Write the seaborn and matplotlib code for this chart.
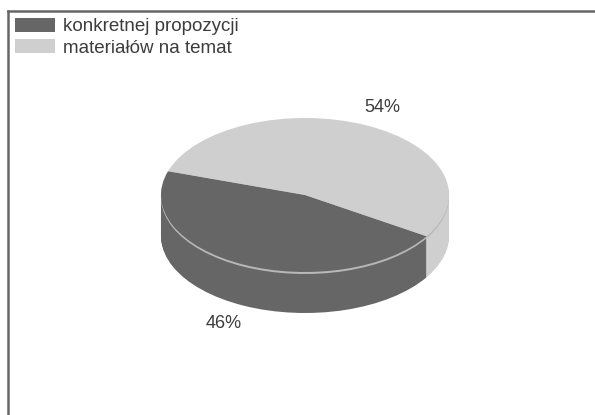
import matplotlib
matplotlib.use("Agg")
import matplotlib.pyplot as plt
import numpy as np
import seaborn as sns

categories = ["konkretnej propozycji", "materiałów na temat"]
shares = [46, 54]
share_labels = ["46%", "54%"]

W, H = 595, 415
colors = ["#666666", "#cfcfcf"]
rim_color = "#b8b8b8"
text_color = "#3c3c3c"

# pie geometry in pixels of the output image
cx, cy = 305, 195
rx, ry = 144, 77
depth = 41
frame_x, frame_y = 8, 11

sns.set_theme(style="white")
plt.rcParams["font.family"] = ["Liberation Sans", "DejaVu Sans"]

fig = plt.figure(figsize=(W / 100, H / 100), dpi=100)
ax = fig.add_axes([frame_x / W, 0, 1 - frame_x / W, 1 - frame_y / H])

flat = {"linewidth": 0}

# stacked pies give the extruded side, top one last
offsets = np.arange(depth, 2, -1)
for off in offsets:
    ax.pie(shares, colors=colors, startangle=162, center=(0, -off / ry), wedgeprops=flat)
ax.pie(shares, colors=[rim_color, rim_color], startangle=162, center=(0, -2 / ry), wedgeprops=flat)
wedges, _ = ax.pie(shares, colors=colors, startangle=162, center=(0, 0), wedgeprops=flat)

ax.set_aspect("auto")
ax.set_xlim((frame_x - cx) / rx, (W - cx) / rx)
ax.set_ylim((cy - H) / ry, (cy - frame_y) / ry)

ax.set_frame_on(True)
for side in ["right", "bottom"]:
    ax.spines[side].set_visible(False)
for side in ["top", "left"]:
    ax.spines[side].set_visible(True)
    ax.spines[side].set_color("#666666")
    ax.spines[side].set_linewidth(1.8)

ax.text((224 - frame_x) / (W - frame_x), (H - 323) / (H - frame_y), share_labels[0],
        transform=ax.transAxes, ha="center", va="center", fontsize=13, color=text_color)
ax.text((382 - frame_x) / (W - frame_x), (H - 108) / (H - frame_y), share_labels[1],
        transform=ax.transAxes, ha="center", va="center", fontsize=13, color=text_color)

ax.legend(wedges, categories, loc="upper left", bbox_to_anchor=(0.0, 1.0), frameon=False,
          fontsize=13.5, labelcolor=text_color, handlelength=2.15, handleheight=0.8,
          handletextpad=0.43, labelspacing=0.2, borderaxespad=0.15, borderpad=0.2)

plt.savefig("out.png", dpi=100)
plt.close("all")
